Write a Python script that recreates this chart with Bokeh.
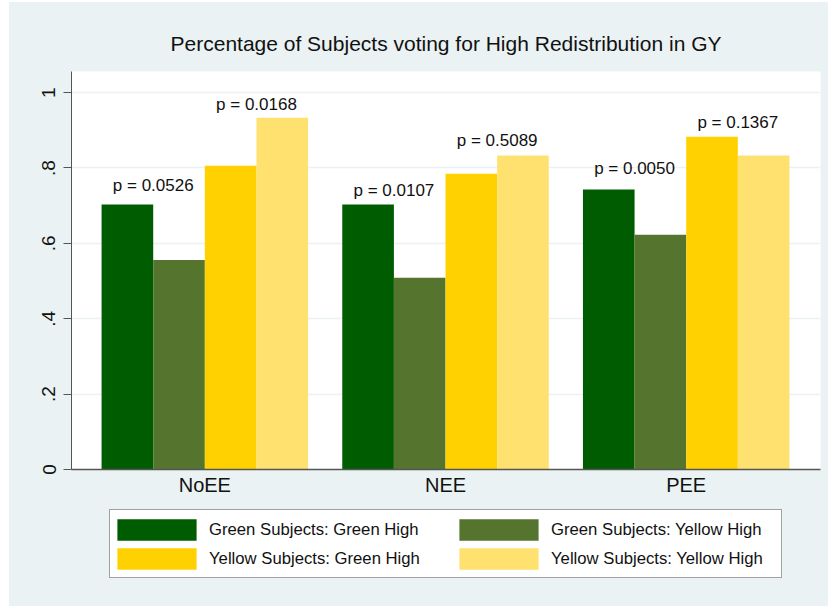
from bokeh.plotting import figure
from bokeh.layouts import column
from bokeh.models import ColumnDataSource, Range1d, FixedTicker, Legend, LegendItem
from bokeh.embed import file_html
from bokeh.resources import INLINE
from bokeh.core.properties import value

# ---------------- data ----------------
treatments = ["NoEE", "NEE", "PEE"]
series_names = [
    "Green Subjects: Green High",
    "Green Subjects: Yellow High",
    "Yellow Subjects: Green High",
    "Yellow Subjects: Yellow High",
]
green_green = [0.703, 0.703, 0.743]
green_yellow = [0.556, 0.509, 0.623]
yellow_green = [0.806, 0.785, 0.883]
yellow_yellow = [0.933, 0.833, 0.833]
p_green = ["p = 0.0526", "p = 0.0107", "p = 0.0050"]
p_yellow = ["p = 0.0168", "p = 0.5089", "p = 0.1367"]
p_green_y = [0.754, 0.740, 0.798]
p_yellow_y = [0.968, 0.873, 0.920]
y_ticks = [0, 0.2, 0.4, 0.6, 0.8, 1]
y_tick_labels = ["0", ".2", ".4", ".6", ".8", "1"]

colors = ["#005C00", "#55752F", "#FFD100", "#FFE170"]
BG = "#EAF2F3"
FONT = "Liberation Sans"

# ---------------- geometry (styling) ----------------
bar_w = 0.2145          # bar width in group units
side_pad = 0.125        # outer padding in group units
n_series = len(series_names)
groups = list(range(len(treatments)))
series_values = [green_green, green_yellow, yellow_green, yellow_yellow]

p = figure(
    width=819, height=498,
    output_backend="svg", toolbar_location=None,
    x_range=Range1d(-(n_series / 2) * bar_w - side_pad, groups[-1] + (n_series / 2) * bar_w + side_pad + 0.004),
    y_range=Range1d(0, 1.056),
    min_border_left=62, min_border_right=8, min_border_top=69, min_border_bottom=31,
)
p.background_fill_color = "white"
p.border_fill_color = BG
p.outline_line_color = None

for s, vals in enumerate(series_values):
    xs = [g + (s - (n_series - 1) / 2) * bar_w for g in groups]
    src = ColumnDataSource(dict(x=xs, top=vals))
    p.vbar(x="x", top="top", bottom=0, width=bar_w, source=src,
           fill_color=colors[s], line_color=None)

# p-value labels, centered over each compared pair of bars
lab_src = ColumnDataSource(dict(
    x=[g - bar_w for g in groups] + [g + bar_w for g in groups],
    y=p_green_y + p_yellow_y,
    text=p_green + p_yellow,
))
p.text(x="x", y="y", text="text", source=lab_src,
       text_font=value(FONT), text_font_size="17px", text_color="#111111",
       text_align="center", text_baseline="middle")

# title
p.title.text = "Percentage of Subjects voting for High Redistribution in GY"
p.title.align = "center"
p.title.text_font = FONT
p.title.text_font_size = "21px"
p.title.text_font_style = "normal"
p.title.text_color = "#111111"
p.title.standoff = 34

# axes
xa = p.xaxis[0]
xa.ticker = FixedTicker(ticks=groups)
xa.major_label_overrides = {g: t for g, t in zip(groups, treatments)}
xa.major_tick_out = 0
xa.major_tick_in = 0
xa.minor_tick_out = 0
xa.minor_tick_in = 0
xa.axis_line_color = "#555555"
xa.axis_line_width = 1.5
xa.major_label_text_font = FONT
xa.major_label_text_font_size = "20px"
xa.major_label_text_color = "#111111"
xa.major_label_standoff = 4

ya = p.yaxis[0]
ya.ticker = FixedTicker(ticks=y_ticks)
ya.major_label_overrides = {t: l for t, l in zip(y_ticks, y_tick_labels)}
ya.major_label_orientation = "vertical"
ya.major_tick_out = 8
ya.major_tick_in = 0
ya.minor_tick_out = 0
ya.minor_tick_in = 0
ya.axis_line_color = "#555555"
ya.major_tick_line_color = "#555555"
ya.major_label_text_font = FONT
ya.major_label_text_font_size = "19px"
ya.major_label_text_color = "#111111"
ya.major_label_standoff = 8

p.xgrid.grid_line_color = None
p.ygrid.grid_line_color = BG
p.ygrid.grid_line_width = 1.5

# ---------------- legend strip (second figure below) ----------------
p2 = figure(
    width=819, height=106, output_backend="svg", toolbar_location=None,
    x_range=Range1d(0, 1), y_range=Range1d(0, 1),
    x_axis_location=None, y_axis_location=None,
    min_border_left=0, min_border_right=0, min_border_top=0, min_border_bottom=0,
)
p2.background_fill_color = BG
p2.border_fill_color = BG
p2.outline_line_color = None
p2.xgrid.visible = False
p2.ygrid.visible = False

# legend proxies: zero-width bars carrying the real series (nothing visible in the strip)
leg_renderers = []
for s, vals in enumerate(series_values):
    leg_renderers.append(p2.vbar(x=[(g + 0.5) / 3 for g in groups], top=vals, bottom=0, width=0,
                                 fill_color=colors[s], line_color=None))
box_r = p2.vbar(x=[], top=[], width=0, fill_alpha=0, line_alpha=0)

legend_box = Legend(
    items=[LegendItem(label=value(" "), renderers=[box_r])],
    location=(38, 28), orientation="vertical",
    glyph_width=671, glyph_height=67, label_standoff=0, label_width=0, label_height=1,
    spacing=0, padding=0, margin=0,
    label_text_font_size="1px",
    border_line_color="#444444", border_line_width=1.5,
    background_fill_color="white", background_fill_alpha=1.0,
)
p2.add_layout(legend_box, "center")

common = dict(
    orientation="vertical",
    glyph_width=99, glyph_height=27, label_standoff=3,
    spacing=2, padding=0, margin=0,
    label_text_font=FONT, label_text_font_size="16.7px", label_text_color="#111111",
    border_line_color=None, background_fill_alpha=0.0,
)
legend_left = Legend(
    items=[LegendItem(label=series_names[i], renderers=[leg_renderers[i]]) for i in (0, 2)],
    location=(36, 34), **common,
)
legend_right = Legend(
    items=[LegendItem(label=series_names[i], renderers=[leg_renderers[i]]) for i in (1, 3)],
    location=(378, 34), **common,
)
p2.add_layout(legend_left, "center")
p2.add_layout(legend_right, "center")

layout = column(p, p2, spacing=0, margin=(2, 0, 0, 9), styles={"background-color": BG})
open("out.html", "w").write(file_html(layout, INLINE))
